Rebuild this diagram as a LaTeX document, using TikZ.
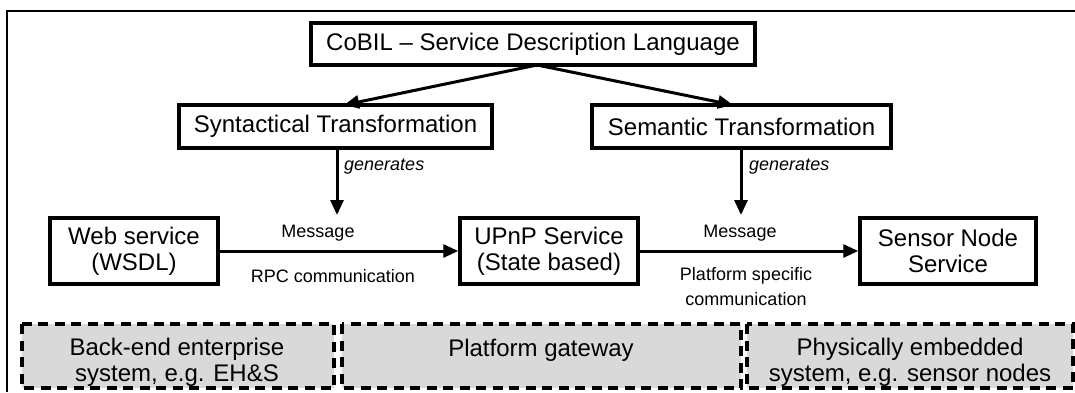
\documentclass[tikz,border=0pt]{standalone}
\usepackage{fontspec}
\setmainfont{Liberation Sans}
\usetikzlibrary{arrows.meta}
\definecolor{zonegray}{HTML}{D9D9D9}
\begin{document}
\begin{tikzpicture}[x=1pt,y=-1pt,
  box/.style={draw,line width=3.5pt,rectangle,inner sep=0pt,align=center,
    font=\fontsize{24}{26}\selectfont},
  zone/.style={draw,line width=3.5pt,fill=zonegray,dash pattern=on 10pt off 6.5pt},
  zonetext/.style={align=center,inner sep=0pt,font=\fontsize{24}{26}\selectfont},
  lbl/.style={inner sep=0pt,align=center,font=\fontsize{18}{25}\selectfont},
  gen/.style={inner sep=0pt,anchor=west,font=\fontsize{18}{20}\selectfont\itshape},
  flow/.style={line width=3pt,-{Triangle[length=15pt,width=13pt]}}]
\useasboundingbox (0,0) rectangle (1075,392);

% outer frame (left and top edges)
\draw[line width=2pt] (7,392) -- (7,11) -- (1075,11);

% platform zones
\draw[zone] (22,324) rectangle (334,388);
\draw[zone] (342,324) rectangle (741,388);
\draw[zone] (747,324) rectangle (1073,388);
\node[zonetext] (zback) at (177,362) {Back-end enterprise\\system, e.g. EH\&S};
\node[zonetext] (zgate) at (541,350) {Platform gateway};
\node[zonetext] (zphys) at (910,362) {Physically embedded\\system, e.g. sensor nodes};

% description language and transformations
\node[box,minimum width=444pt,minimum height=42pt] (cobil) at (533,44)
  {CoBIL – Service Description Language};
\node[box,minimum width=313pt,minimum height=43pt] (syn) at (335.5,126.5)
  {Syntactical Transformation};
\node[box,minimum width=299pt,minimum height=43pt] (sem) at (741.5,126.5)
  {Semantic Transformation};

\coordinate (split) at (537,65);
\draw[flow] (split) -- (344,105);
\draw[flow] (split) -- (733,105);

% services
\node[box,minimum width=168pt,minimum height=66pt] (web) at (134,251)
  {Web service\\(WSDL)};
\node[box,minimum width=178pt,minimum height=66pt] (upnp) at (549,251)
  {UPnP Service\\(State based)};
\node[box,minimum width=176pt,minimum height=66pt] (sensor) at (948,251)
  {Sensor Node\\Service};

% generated messages
\coordinate (msgA) at (337,215);
\coordinate (msgB) at (741,215);
\draw[flow] (syn.south -| msgA) -- (msgA);
\draw[flow] (sem.south -| msgB) -- (msgB);
\node[gen] (genA) at (344,167) {generates};
\node[gen] (genB) at (749,167) {generates};

% communication
\draw[flow] (web.east) -- (upnp.west);
\draw[flow] (upnp.east) -- (sensor.west);
\node[lbl] (msgAl) at (318,233) {Message};
\node[lbl] (rpc) at (333,276) {RPC communication};
\node[lbl] (msgBl) at (740,233) {Message};
\node[lbl] (plat) at (746,287) {Platform specific\\communication};
\end{tikzpicture}
\end{document}
